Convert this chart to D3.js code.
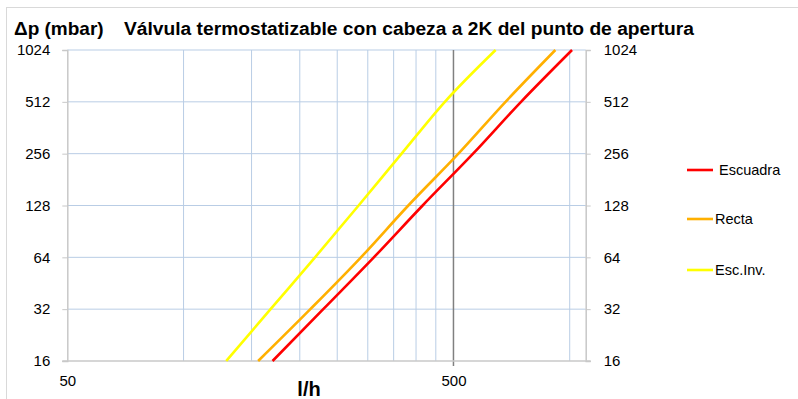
<!DOCTYPE html>
<html>
<head>
<meta charset="utf-8">
<script src="https://cdn.jsdelivr.net/npm/d3@7"></script>
<style>
  body { margin: 0; background: #fff; }
  svg { font-family: "Liberation Sans", Arial, sans-serif; }
</style>
</head>
<body>
<div id="chart"></div>
<script>
const width = 798;
const height = 399;
// plot area inside the svg
const plot = { left: 67.3, right: 585.7, top: 50, bottom: 361 };

// values
const flowLabels = [50, 500];
const flowGrid = [100, 150, 200, 250, 300, 350, 400, 450, 1000];
const pressureTicks = [16, 32, 64, 128, 256, 512, 1024];

const seriesNames = ["Escuadra", "Recta", "Esc.Inv."];
const seriesColors = ["#ff0000", "#ffb000", "#ffff00"];
const escuadraFlow = [170, 230, 311, 416, 562, 748, 1014];
const rectaFlow = [156, 213, 288, 382, 515, 682, 918];
const escInvFlow = [129, 168, 219, 284, 367, 475, 643];
const seriesDp = [16, 32, 64, 128, 256, 512, 1024];

document.addEventListener("DOMContentLoaded", function () {
  const svg = d3
    .select("#chart")
    .append("svg")
    .attr("width", width)
    .attr("height", height);

  const x = d3.scaleLog().domain([50, 1100]).range([plot.left, plot.right]);
  const y = d3.scaleLog().base(2).domain([16, 1024]).range([plot.bottom, plot.top]);

  // outer frame
  svg.append("line").attr("x1", 6).attr("x2", width).attr("y1", 7.5).attr("y2", 7.5)
    .attr("stroke", "#d9d9d9");
  svg.append("line").attr("x1", 6.5).attr("x2", 6.5).attr("y1", 7).attr("y2", height)
    .attr("stroke", "#d9d9d9");

  // horizontal grid
  svg.append("g")
    .selectAll("line")
    .data(pressureTicks.slice(1))
    .enter()
    .append("line")
    .attr("x1", plot.left)
    .attr("x2", plot.right)
    .attr("y1", (d) => y(d))
    .attr("y2", (d) => y(d))
    .attr("stroke", "#b9cde5")
    .attr("stroke-width", 1);

  // vertical grid
  svg.append("g")
    .selectAll("line")
    .data(flowGrid)
    .enter()
    .append("line")
    .attr("x1", (d) => x(d))
    .attr("x2", (d) => x(d))
    .attr("y1", plot.top)
    .attr("y2", plot.bottom)
    .attr("stroke", "#b9cde5")
    .attr("stroke-width", 1);

  // 500 l/h line
  svg.append("line")
    .attr("x1", x(500)).attr("x2", x(500))
    .attr("y1", plot.top).attr("y2", plot.bottom + 5)
    .attr("stroke", "#808080")
    .attr("stroke-width", 1.5);

  // axes
  const leftAxis = d3.axisLeft(y).tickValues(pressureTicks).tickFormat(d3.format("d")).tickSize(5).tickPadding(12);
  const rightAxis = d3.axisRight(y).tickValues(pressureTicks).tickFormat(d3.format("d")).tickSize(5).tickPadding(13);

  const gl = svg.append("g").attr("transform", "translate(" + plot.left + ",0)").call(leftAxis);
  const gr = svg.append("g").attr("transform", "translate(" + plot.right + ",0)").call(rightAxis);
  [gl, gr].forEach((g) => {
    g.select(".domain").attr("stroke", "#c8c8c8").attr("stroke-width", 1.5);
    g.selectAll(".tick line").attr("stroke", "#c8c8c8");
    g.selectAll("text").attr("font-size", 15).attr("fill", "#000").attr("font-family", "Liberation Sans");
  });

  const xAxis = d3.axisBottom(x).tickValues(flowLabels).tickFormat(d3.format("d")).tickSize(0).tickPadding(14);
  const gx = svg.append("g").attr("transform", "translate(0," + plot.bottom + ")").call(xAxis);
  gx.select(".domain").attr("stroke", "#c8c8c8").attr("stroke-width", 1.5);
  gx.selectAll("text").attr("font-size", 15).attr("fill", "#000").attr("font-family", "Liberation Sans");
  gx.select(".domain").attr("d", "M" + (plot.left - 5) + ",0H" + (plot.right + 5));

  // series
  const flows = [escuadraFlow, rectaFlow, escInvFlow];
  const line = d3.line()
    .curve(d3.curveMonotoneX)
    .x((d) => x(d[0]))
    .y((d) => y(d[1]));

  svg.append("g")
    .selectAll("path")
    .data(flows)
    .enter()
    .append("path")
    .attr("fill", "none")
    .attr("stroke", (d, i) => seriesColors[i])
    .attr("stroke-width", 2.6)
    .attr("d", (d) => line(d.map((f, j) => [f, seriesDp[j]])));

  // legend
  const legendY = [170, 219, 270];
  const legendTextX = [719, 715, 715];
  const legend = svg.append("g")
    .selectAll("g")
    .data(seriesNames)
    .enter()
    .append("g");
  legend.append("line")
    .attr("x1", 687).attr("x2", 713)
    .attr("y1", (d, i) => legendY[i]).attr("y2", (d, i) => legendY[i])
    .attr("stroke", (d, i) => seriesColors[i])
    .attr("stroke-width", 2.6);
  legend.append("text")
    .attr("x", (d, i) => legendTextX[i])
    .attr("y", (d, i) => legendY[i] + 5)
    .attr("font-size", 14.5)
    .text((d) => d);

  // titles
  svg.append("text")
    .attr("x", 14).attr("y", 35)
    .attr("font-size", 19).attr("font-weight", "bold")
    .text("Δp (mbar)");

  svg.append("text")
    .attr("x", 124).attr("y", 35)
    .attr("font-size", 18).attr("font-weight", "bold")
    .attr("textLength", 570).attr("lengthAdjust", "spacingAndGlyphs")
    .text("Válvula termostatizable con cabeza a 2K del punto de apertura");

  svg.append("text")
    .attr("x", 309).attr("y", 396)
    .attr("text-anchor", "middle")
    .attr("font-size", 20).attr("font-weight", "bold")
    .text("l/h");
});
</script>
</body>
</html>
